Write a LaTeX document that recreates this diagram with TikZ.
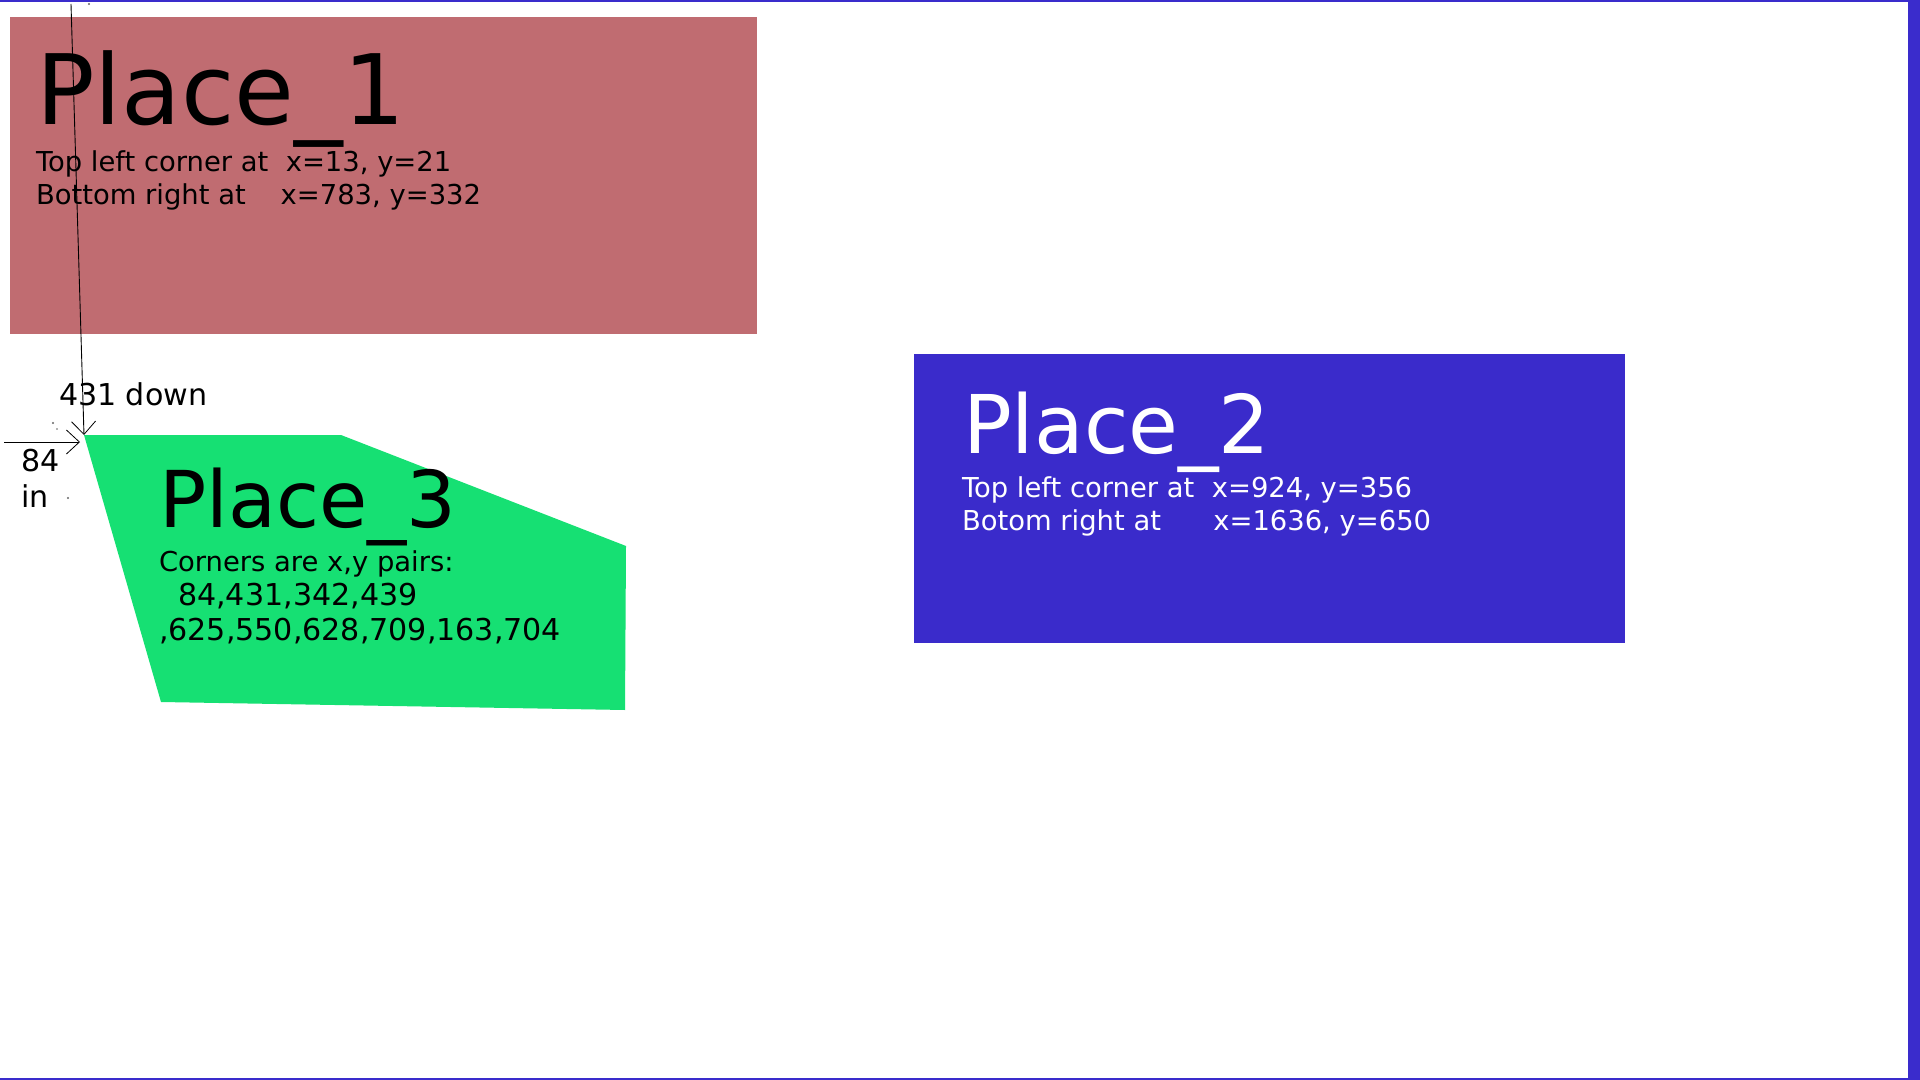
\documentclass[tikz,border=0pt]{standalone}
\usepackage{fontspec}
\usetikzlibrary{arrows.meta}
\newfontfamily\dvs{DejaVu Sans}
\definecolor{frameblue}{HTML}{3A2CCC}
\definecolor{placered}{HTML}{C06C71}
\definecolor{placeblue}{HTML}{3A2BCB}
\definecolor{placegreen}{HTML}{16E073}
\tikzset{
  lbl/.style={anchor=base west, inner sep=0pt, outer sep=0pt, font=\dvs\fontsize{13.7}{16}\selectfont},
  lblbig/.style={anchor=base west, inner sep=0pt, outer sep=0pt, font=\dvs\fontsize{15.05}{18}\selectfont},
  bigtitle/.style={anchor=base west, inner sep=0pt, outer sep=0pt, font=\dvs\fontsize{48.6}{56}\selectfont},
  midtitle/.style={anchor=base west, inner sep=0pt, outer sep=0pt, font=\dvs\fontsize{40.5}{48}\selectfont},
  measure/.style={draw=black, line width=0.45pt, -{Straight Barb[length=6.5pt,width=12pt,line width=0.4pt]}},
  speck/.style={fill=black!60, draw=none}
}
\begin{document}
\begin{tikzpicture}[x=0.5pt, y=-0.5pt]
\useasboundingbox (0,0) rectangle (1920,1080);
\fill[white] (0,0) rectangle (1920,1080);
% frame
\fill[frameblue] (0,0) rectangle (1920,2);
\fill[frameblue] (0,1078) rectangle (1920,1080);
\fill[frameblue] (1908,0) rectangle (1920,1080);
% Place 1
\fill[placered] (10,17) rectangle (757,334);
\node[bigtitle] (p1t) at (36,125) {Place\_1};
\node[lbl] (p1a) at (36,172) {Top left corner at\ \ x=13, y=21};
\node[lbl] (p1b) at (36,205) {Bottom right at\ \ \ \ x=783, y=332};
% Place 2
\fill[placeblue] (914,354) rectangle (1625,643);
\node[midtitle, text=white] (p2t) at (963,453) {Place\_2};
\node[lbl, text=white] (p2a) at (962,497) {Top left corner at\ \ x=924, y=356};
\node[lbl, text=white] (p2b) at (962,530) {Botom right at\ \ \ \ \ \ x=1636, y=650};
% Place 3
\coordinate (g1) at (84,435);
\coordinate (g2) at (341,435);
\coordinate (g3) at (626,546);
\coordinate (g4) at (625,710);
\coordinate (g5) at (161,702);
\fill[placegreen] (g1) -- (g2) -- (g3) -- (g4) -- (g5) -- cycle;
\node[midtitle, font=\dvs\fontsize{39.2}{46}\selectfont] (p3t) at (159,527) {Place\_3};
\node[lbl] (p3a) at (159,571) {Corners are x,y pairs:};
\node[lblbig] (p3b) at (159,605) {\ \ 84,431,342,439};
\node[lblbig] (p3c) at (159,640) {,625,550,628,709,163,704};
% measurement marks
\coordinate (vtop) at (71,4);
\coordinate (hleft) at (4,442);
\coordinate (hend) at (80,442);
\draw[measure] (vtop) -- (g1);
\draw[measure] (hleft) -- (hend);
\node[lblbig] (down) at (59,405) {431 down};
\node[lblbig] (in1) at (21,471) {84};
\node[lblbig] (in2) at (21,507) {in};
\fill[speck] (89,4) circle (1.2);
\fill[speck] (53,423) circle (1.2);
\fill[speck] (57,429) circle (0.8);
\fill[speck] (68,498) circle (1.2);
\end{tikzpicture}
\end{document}
